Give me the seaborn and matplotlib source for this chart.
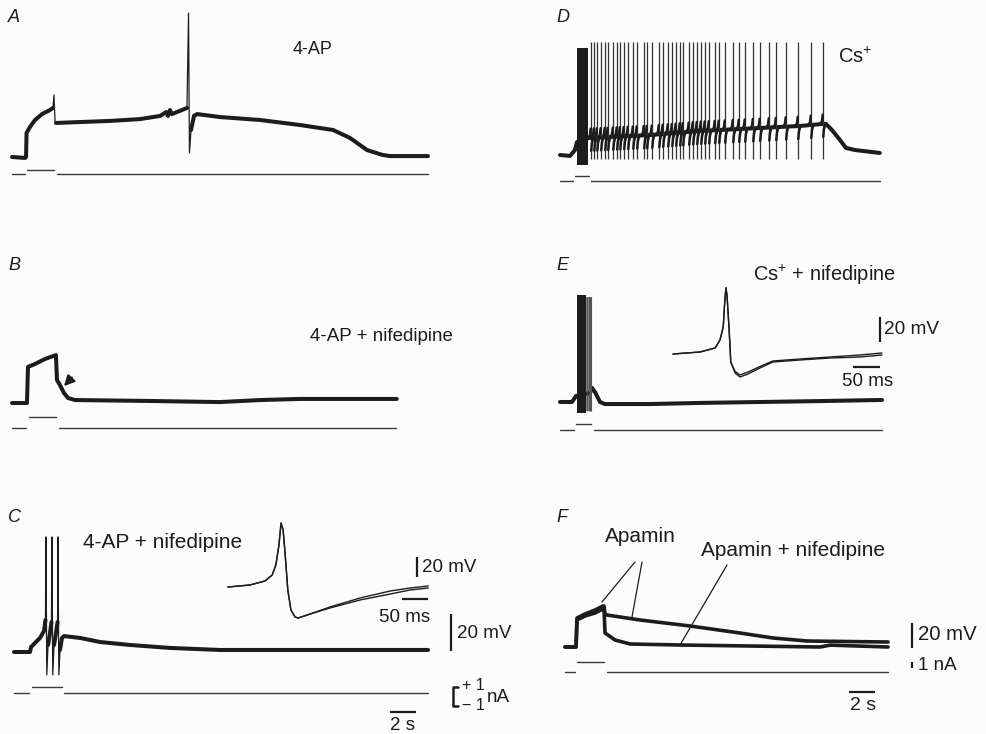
import numpy as np
import pandas as pd
import matplotlib
matplotlib.use("Agg")
import matplotlib.pyplot as plt
from matplotlib.lines import Line2D
import seaborn as sns

sns.set_theme(style="white")
plt.rcParams["font.family"] = ["Liberation Sans", "DejaVu Sans"]
plt.rcParams["mathtext.fontset"] = "custom"
plt.rcParams["mathtext.rm"] = "Liberation Sans"

# ---------------- data (time in s, voltage in mV rel. rest, current in nA) ----
a_t = [0, 1.0, 1.08, 1.12, 1.38, 1.77, 2.31, 2.92, 3.15, 3.23, 3.31, 3.38, 5.23, 7.54, 9.85,
       11.4, 11.85, 12.0, 12.15, 12.3, 12.9, 13.46, 13.58, 13.65, 13.77, 14.0, 14.23, 16.0,
       19.08, 22.15, 24.7, 26.0, 27.3, 28.5, 29.08, 32.0]
a_v = [0, -0.5, 0, 13, 16.2, 20, 23.2, 25.4, 26.5, 33.5, 19.5, 18.4, 18.9, 19.5, 20.5,
       22.2, 24.3, 22.2, 25.4, 23.2, 24.9, 26.5, 77.8, 2.2, 14.6, 22.2, 23.2, 21.6,
       20, 17.3, 14.6, 10.3, 3.8, 1.1, 0.5, 0.5]
a_spikes = [3.23, 13.58]

b_t = [0, 1.15, 1.23, 1.77, 2.54, 3.38, 3.46, 3.69, 4.0, 4.31, 4.85, 10.6, 16.0, 19.1, 22.15, 29.6]
b_v = [0, 0, 19.5, 21.1, 23.8, 25.9, 12.4, 9.7, 5.4, 2.7, 1.6, 1.1, 0.5, 1.6, 2.2, 2.2]

c_t = [0, 1.23, 1.31, 1.62, 2.0, 2.31, 2.42, 2.46, 2.52, 2.62, 2.77, 2.88, 2.92, 2.98, 3.08,
       3.23, 3.35, 3.38, 3.45, 3.54, 3.69, 3.85, 5.08, 6.62, 8.92, 12.0, 15.85, 22.0, 31.85]
c_v = [0, 0, 2.7, 4.9, 7.6, 11.4, 17.3, 62.2, -12.4, 3.8, 10.3, 16.2, 62.2, -12.4, 3.8,
       10.3, 16.2, 62.2, -12.4, 1.1, 7.6, 8.6, 7.6, 5.4, 3.8, 2.2, 1.1, 1.1, 1.1]
c_spikes = [2.46, 2.92, 3.38]

# inset C (time in ms, voltage in mV), two superimposed sweeps
ic_t = [0, 42, 71, 85, 92, 98, 102, 106, 110, 115, 121, 129, 135, 158, 196, 254, 312, 350, 385]
ic_v1 = [0, 2, 6, 12, 22, 42, 64, 57, 32, -3, -23, -30, -31, -27, -20, -11, -4, -1, 1]
ic_v2 = [0, 2, 6, 12, 22, 42, 64, 57, 32, -3, -23, -30, -31, -27, -21, -13, -7, -3, -1]

d_t = [0, 0.77, 1.15, 1.31, 2.23, 6.92, 10.77, 15.4, 18.46, 20.23, 20.46, 20.92, 21.54, 22.0, 22.69, 24.6]
d_v = [0, -0.5, 2.7, 7.0, 9.2, 10.8, 13.0, 14.6, 15.7, 16.8, 16.8, 13.5, 8.1, 3.8, 2.7, 1.1]
d_burst = (1.31, 2.15, -5.4, 57.8)
d_spikes = [2.38, 2.62, 2.85, 3.15, 3.46, 3.69, 4.08, 4.38, 4.62, 4.92, 5.23, 5.62, 5.92, 6.46,
            6.69, 7.08, 7.62, 7.92, 8.31, 8.62, 8.92, 9.23, 9.46, 9.92, 10.23, 10.54, 10.85,
            11.15, 11.46, 11.92, 12.23, 12.69, 13.31, 13.77, 14.23, 14.85, 15.38, 16.08, 16.62,
            17.38, 18.31, 19.31, 20.23]
d_spike_peak = 61.0
d_spike_trough = -2.0

e_t = [0, 0.92, 1.23, 2.31, 2.46, 2.69, 3.08, 3.46, 6.92, 10.77, 15.38, 20.0, 24.77]
e_v = [0, 0, 3.2, 4.9, 7.6, 5.4, 0, -1.1, -1.1, -0.5, 0, 0.5, 1.1]
e_burst_core = (1.31, 2.0, -5.9, 57.8)
e_burst_tail = (2.0, 2.46, -5.0, 57.0)
e_tail_spikes = [2.08, 2.2, 2.3, 2.42]

ie_t = [0, 50, 78, 87, 93, 96, 98, 100, 104, 107, 115, 124, 139, 161, 185, 235, 291, 346, 387]
ie_v1 = [0, 1.6, 4.8, 11.2, 21.6, 43, 53, 47, 19, -6.4, -15.2, -18.4, -16, -11.2, -6.4, -4.8, -3.2, -2.4, -0.8]
ie_v2 = [0, 1.6, 4.8, 11.2, 21.6, 43, 53, 47, 19, -6.4, -14.0, -16.8, -14.4, -10.0, -5.6, -4.0, -2.4, -0.8, 0.8]

fa_t = [0, 0.85, 0.92, 1.54, 2.31, 2.92, 3.0, 3.08, 3.23, 5.77, 9.62, 13.46, 16.0, 18.62, 24.85]
fa_v = [0, 0, 23.2, 26.4, 29.6, 32.8, 32.8, 26.4, 25.6, 21.6, 16.8, 11.2, 7.2, 4.8, 4.0]
fn_t = [0, 0.85, 0.92, 1.54, 2.31, 2.92, 3.0, 3.08, 3.85, 5.0, 8.85, 14.23, 19.62, 20.4, 24.85]
fn_v = [0, 0, 21.6, 24.8, 27.2, 30.4, 30.4, 11.2, 5.6, 2.4, 1.6, 0.8, 0, 1.5, 0]

# current steps: (start s, end s, level nA)
cur_a = [(0, 1.0, 0), (1.15, 3.23, 0.7), (3.46, 32.0, 0)]
cur_b = [(0, 1.08, 0), (1.31, 3.38, 1.8), (3.62, 29.5, 0)]
cur_c = [(0, 1.15, 0), (1.38, 3.69, 1.0), (3.85, 31.85, 0)]
cur_d = [(0, 1.0, 0), (1.15, 2.23, 0.85), (2.38, 24.6, 0)]
cur_e = [(0, 1.08, 0), (1.23, 2.38, 1.0), (2.62, 24.77, 0)]
cur_f = [(0, 0.77, 0), (0.92, 3.0, 1.7), (3.23, 24.85, 0)]

# ---------------- figure ----------------
W, H = 987, 734
fig = plt.figure(figsize=(W / 100, H / 100), dpi=100)
fig.patch.set_facecolor("#fcfcfc")
INK = "#1c1c1c"
SX = 13.0      # px per s
SY = 1.85      # px per mV
SI = 6.0       # px per nA
LWT = 2.9      # thick trace width


def overlay(x0, y0, sx, sy):
    ax = fig.add_axes([0, 0, 1, 1])
    ax.set_xlim(-x0 / sx, (W - x0) / sx)
    ax.set_ylim(-(H - y0) / sy, y0 / sy)
    ax.set_axis_off()
    ax.patch.set_alpha(0)
    return ax


def trace(ax, t, v, lw, color=INK):
    df = pd.DataFrame({"t": t, "v": v})
    sns.lineplot(data=df, x="t", y="v", ax=ax, sort=False, estimator=None,
                 color=color, linewidth=lw, legend=False)


def thick_thin(ax, t, v, spikes, lw_thick=LWT, lw_thin=0.9):
    t = np.asarray(t, float)
    v = np.asarray(v, float)
    trace(ax, t, v, lw_thin)
    keep = np.ones(len(t), bool)
    for s in spikes:
        keep &= ~((t > s - 0.03) & (t < s + 0.1))
    seg = np.cumsum(np.r_[True, keep[1:] & ~keep[:-1]])
    df = pd.DataFrame({"t": t[keep], "v": v[keep], "u": seg[keep]})
    sns.lineplot(data=df, x="t", y="v", units="u", ax=ax, sort=False, estimator=None,
                 color=INK, linewidth=lw_thick, legend=False)


def current(ax, segs):
    rows = []
    for k, (t0, t1, lev) in enumerate(segs):
        rows += [(t0, lev, k), (t1, lev, k)]
    df = pd.DataFrame(rows, columns=["t", "i", "u"])
    sns.lineplot(data=df, x="t", y="i", units="u", ax=ax, sort=False, estimator=None,
                 color="#3a3a3a", linewidth=1.0, legend=False)


def label(x, y, s, ha="left", size=13, style="normal"):
    fig.text(x / W, 1 - y / H, s, ha=ha, va="center", fontsize=size, style=style, color=INK)


def bar(ax, xs, ys, lw=1.6):
    ax.plot(xs, ys, color=INK, lw=lw, solid_capstyle="butt")


# ---- A
ax = overlay(12, 157, SX, SY)
thick_thin(ax, a_t, a_v, a_spikes)
current(overlay(12, 174, SX, SI), cur_a)
label(8, 18, "A", style="italic")
label(293, 50, "4-AP")

# ---- B
ax = overlay(12, 403, SX, SY)
trace(ax, b_t, b_v, LWT)
ax.annotate("", xy=(3.85, 8.0), xytext=(4.75, 14.8),
            arrowprops=dict(arrowstyle="-|>,head_length=0.5,head_width=0.25", lw=1.6, color=INK))
current(overlay(12, 428, SX, SI), cur_b)
label(8, 265, "B", style="italic")
label(310, 337, "4-AP + nifedipine", size=13.5)

# ---- C
ax = overlay(14, 652, SX, SY)
thick_thin(ax, c_t, c_v, c_spikes)
bar(ax, [33.6, 33.6], [0.5, 20.5])
bar(ax, [28.9, 30.9], [-32.4, -32.4])
current(overlay(14, 693, SX, SI), cur_c)
axi = overlay(228, 587, 0.52, 1.0)
trace(axi, ic_t, ic_v1, 1.0)
trace(axi, ic_t, ic_v2, 1.0)
bar(axi, [363, 363], [10, 30])
bar(axi, [335, 385], [-12, -12])
label(8, 518, "C", style="italic")
label(83, 543, "4-AP + nifedipine", size=15)
label(422, 567, "20 mV", size=13.5)
label(405, 617, "50 ms", ha="center", size=13.5)
label(457, 633, "20 mV", size=13.5)
fig.add_artist(Line2D([458 / W, 453 / W, 453 / W, 458 / W],
                      [1 - 687 / H, 1 - 687 / H, 1 - 706 / H, 1 - 706 / H],
                      color=INK, lw=1.8, transform=fig.transFigure))
label(462, 686, "+ 1", size=11.5)
label(462, 706, "\u2212 1", size=11.5)
label(487, 697, "nA", size=13.5)
label(403, 725, "2 s", ha="center", size=13.5)

# ---- D
ax = overlay(560, 155, SX, SY)
trace(ax, d_t, d_v, LWT)
b0, b1, blo, bhi = d_burst
ax.fill_between([b0, b1], [blo, blo], [bhi, bhi], color=INK, lw=0)
ax.vlines(d_spikes, d_spike_trough, d_spike_peak, color="#333333", lw=0.9)
# pre-spike ramps and post-spike undershoots drawn on top of the plateau line
hook_rows = []
for k, s in enumerate(d_spikes):
    base = float(np.interp(s, d_t, d_v))
    hook_rows += [(s - 0.2, base, k), (s - 0.08, base + 1.5, k), (s - 0.02, base + 5.0, k)]
    hook_rows += [(s + 0.02, base - 7.0, k + 100), (s + 0.07, base - 3.0, k + 100),
                  (s + 0.16, base - 0.5, k + 100)]
hdf = pd.DataFrame(hook_rows, columns=["t", "v", "u"])
sns.lineplot(data=hdf, x="t", y="v", units="u", ax=ax, sort=False, estimator=None,
             color=INK, linewidth=1.8, legend=False)
current(overlay(560, 181, SX, SI), cur_d)
label(556, 17, "D", style="italic")
label(838, 57, "Cs$^{+}$", size=14.5)

# ---- E
ax = overlay(560, 402, SX, SY)
trace(ax, e_t, e_v, LWT)
c0, c1, clo, chi = e_burst_core
ax.fill_between([c0, c1], [clo, clo], [chi, chi], color=INK, lw=0)
t0, t1, tlo, thi = e_burst_tail
ax.fill_between([t0, t1], [tlo, tlo], [thi, thi], color="#888888", lw=0)
ax.vlines(e_tail_spikes, -5.0, 57.0, color="#555555", lw=0.8)
current(overlay(560, 430, SX, SI), cur_e)
axi = overlay(673, 354, 0.54, 1.25)
trace(axi, ie_t, ie_v1, 1.0)
trace(axi, ie_t, ie_v2, 1.0)
bar(axi, [383, 383], [9.6, 29.6])
bar(axi, [333, 383], [-10.4, -10.4])
label(556, 265, "E", style="italic")
label(753, 275, "Cs$^{+}$ + nifedipine", size=14.4)
label(884, 330, "20 mV", size=13.7)
label(868, 382, "50 ms", ha="center", size=13.5)

# ---- F
SYF = 1.25
ax = overlay(565, 647, SX, SYF)
trace(ax, fa_t, fa_v, 2.6)
trace(ax, fn_t, fn_v, 2.6)
bar(ax, [26.7, 26.7], [-0.8, 19.2])
bar(ax, [21.85, 23.85], [-36, -36])
axc = overlay(565, 672, SX, SI)
current(axc, cur_f)
bar(axc, [26.7, 26.7], [0.67, 1.67])
label(556, 517, "F", style="italic")
label(605, 537, "Apamin", size=15)
label(701, 550, "Apamin + nifedipine", size=15)
label(918, 635, "20 mV", size=14.7)
label(918, 665, "1 nA", size=13.5)
label(863, 705, "2 s", ha="center", size=14)
for (x1, y1, x2, y2) in [(635, 562, 602, 602), (642, 562, 632, 617), (727, 565, 680, 645)]:
    fig.add_artist(Line2D([x1 / W, x2 / W], [1 - y1 / H, 1 - y2 / H], color=INK, lw=0.9,
                          transform=fig.transFigure))

fig.savefig("out.png", dpi=100, facecolor=fig.get_facecolor())
